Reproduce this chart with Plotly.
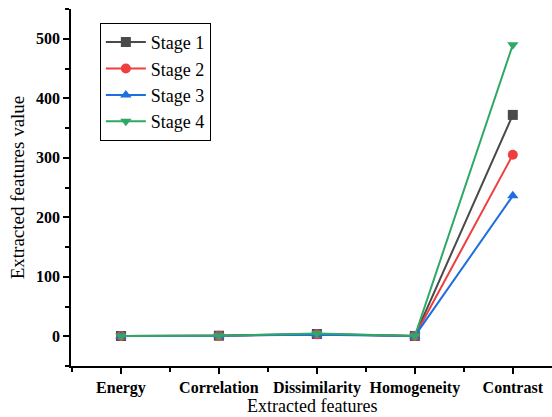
import plotly.graph_objects as go

categories = ["Energy", "Correlation", "Dissimilarity", "Homogeneity", "Contrast"]
stage1 = [0.4, 0.9, 3.8, 0.5, 372]
stage2 = [0.3, 0.8, 3.2, 0.4, 305]
stage3 = [0.5, 0.9, 2.6, 0.6, 236]
stage4 = [0.4, 0.9, 4.6, 0.5, 490]
series_names = ["Stage 1", "Stage 2", "Stage 3", "Stage 4"]
colors = ["#4a4a4a", "#ef3e3e", "#1f6ee0", "#2fa866"]
symbols = ["square", "circle", "triangle-up", "triangle-down"]
x_title = "Extracted features"
y_title = "Extracted features value"

SERIF = "Liberation Serif, Times New Roman, serif"

xpos = list(range(len(categories)))
fig = go.Figure()
for name, vals, c, s in zip(series_names, [stage1, stage2, stage3, stage4], colors, symbols):
    fig.add_trace(go.Scatter(x=xpos, y=vals, mode="lines+markers", name=name,
                             line=dict(color=c, width=2),
                             marker=dict(symbol=s, size=10, color=c)))

fig.update_layout(
    width=552, height=417,
    margin=dict(l=71, r=0, t=9, b=51),
    plot_bgcolor="white", paper_bgcolor="white",
    font=dict(family=SERIF, color="black"),
    legend=dict(x=0.06, y=0.961, xanchor="left", yanchor="top",
                bordercolor="black", borderwidth=1, bgcolor="white",
                font=dict(size=18, family=SERIF),
                tracegroupgap=0, itemwidth=40),
    showlegend=True,
)
fig.add_annotation(text=x_title, xref="x domain", yref="y domain", x=0.5, y=-0.113,
                   xanchor="center", yanchor="middle", showarrow=False,
                   font=dict(size=18, family=SERIF, color="black"))
fig.update_xaxes(range=[-0.51, 4.4], tickmode="array", tickvals=xpos, ticktext=categories,
                 tickfont=dict(size=16, family=SERIF, weight="bold"),
                 showline=True, linecolor="black", linewidth=1.5, showgrid=False, zeroline=False,
                 ticks="outside", ticklen=6, tickcolor="black", tickwidth=1.5, automargin=False,
                 minor=dict(tickmode="linear", tick0=0.5, dtick=1, ticks="outside", ticklen=4, tickcolor="black", tickwidth=1.5))
fig.update_yaxes(range=[-50, 550], tickvals=[0, 100, 200, 300, 400, 500],
                 tickfont=dict(size=16, family=SERIF, weight="bold"),
                 showline=True, linecolor="black", linewidth=1.5, showgrid=False, zeroline=False,
                 ticks="outside", ticklen=6, tickcolor="black", tickwidth=1.5, automargin=False,
                 minor=dict(tickmode="linear", tick0=50, dtick=100, ticks="outside", ticklen=4, tickcolor="black", tickwidth=1.5),
                 title=dict(text=y_title, font=dict(size=19, family=SERIF), standoff=6))

fig.write_html("out.html", config={"displayModeBar": False},
               post_script="document.body.style.margin='0';")
